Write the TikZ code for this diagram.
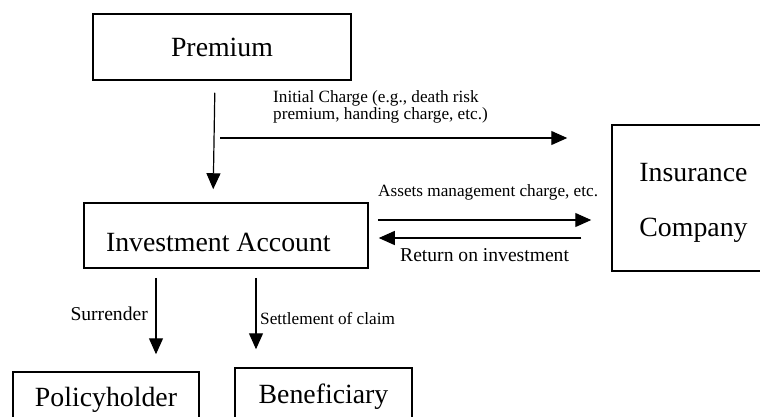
\documentclass[tikz,border=0pt]{standalone}
\usepackage{fontspec}
\setmainfont{Liberation Serif}
\usetikzlibrary{arrows.meta}
\newcommand{\bigtxt}{\fontsize{27.8bp}{33bp}\selectfont}
\newcommand{\midtxt}{\fontsize{19.6bp}{22bp}\selectfont}
\newcommand{\smalltxt}{\fontsize{17.2bp}{17bp}\selectfont}

\begin{document}
\begin{tikzpicture}[x=1bp,y=-1bp]
	\tikzstyle{box}=[draw, line width=1.5bp, inner sep=0pt, font=\bigtxt]
	\tikzstyle{arr}=[line width=1.2bp, -{Triangle[length=16bp,width=14bp]}]
	\tikzstyle{lbl}=[inner sep=0pt]

	\useasboundingbox (0,0) rectangle (760,416);
	\clip (0,0) rectangle (760,416);

	\node[box, minimum width=258bp, minimum height=66bp] (prem) at (222,47) {Premium};
	\node[box, minimum width=284bp, minimum height=65bp, align=flush left, text width=240bp, inner xsep=22bp, text height=32bp, text depth=0pt] (inv) at (226,235.5) {Investment Account};
	\node[box, minimum width=163bp, minimum height=146bp, align=center, text height=82bp, text depth=6bp, font=\fontsize{27.8bp}{55bp}\selectfont] (ins) at (693.5,198) {Insurance\\Company};
	\node[box, minimum width=186bp, minimum height=56bp] (pol) at (106,400) {Policyholder};
	\node[box, minimum width=177bp, minimum height=58bp] (ben) at (323.5,397) {Beneficiary};

	\draw[arr, shorten <=12bp, shorten >=13bp] ([xshift=-7bp]prem.south) -- ([xshift=-13bp]inv.north);

	\coordinate (ic) at (220,138);
	\draw[arr, shorten >=44bp] (ic) -- (ic -| ins.west);
	\node[lbl, anchor=north west, align=left, font=\smalltxt] (iclbl) at (273,90) {Initial Charge (e.g., death risk\\premium, handing charge, etc.)};

	\coordinate (am) at ([yshift=15.5bp]inv.east);
	\draw[arr, shorten <=9bp, shorten >=20bp] (am) -- (am -| ins.west);
	\node[lbl, anchor=base west, font=\smalltxt] (amlbl) at (378,196) {Assets management charge, etc.};

	\coordinate (ri) at ([yshift=-2.5bp]inv.east);
	\draw[arr, shorten <=30bp, shorten >=10bp] (ri -| ins.west) -- (ri);
	\node[lbl, anchor=base west, font=\midtxt] (rilbl) at (400,261) {Return on investment};

	\coordinate (su) at ([xshift=-70bp]inv.south);
	\draw[arr, shorten <=9bp, shorten >=17bp] (su) -- (su |- pol.north);
	\node[lbl, anchor=base east, font=\midtxt] (sulbl) at (148,320) {Surrender};

	\coordinate (se) at ([xshift=30bp]inv.south);
	\draw[arr, shorten <=9bp, shorten >=18bp] (se) -- (se |- ben.north);
	\node[lbl, anchor=base west, font=\smalltxt] (selbl) at (260,324) {Settlement of claim};
\end{tikzpicture}
\end{document}
